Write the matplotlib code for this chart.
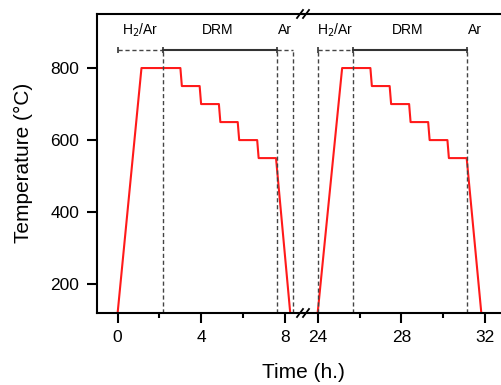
import matplotlib
matplotlib.use('Agg')
import matplotlib.pyplot as plt
from matplotlib.lines import Line2D

plt.rcParams['font.family'] = ['Liberation Sans', 'DejaVu Sans']

# temperature programme, first run (0-8 h) and second run (24-32 h)
t_run1 = [0, 1.14, 3.0, 3.07, 3.92, 3.99, 4.84, 4.91, 5.74, 5.81, 6.67, 6.74, 7.57, 8.25]
t_run2 = [24, 25.17, 26.52, 26.59, 27.44, 27.51, 28.37, 28.44, 29.28, 29.35, 30.2, 30.27, 31.12, 31.82]
temp = [120, 800, 800, 750, 750, 700, 700, 650, 650, 600, 600, 550, 550, 120]

# gas phases: (start, end) of each stage
h2_run1, drm_run1, ar_run1 = (0, 2.17), (2.17, 7.62), (7.62, 8.38)
h2_run2, drm_run2, ar_run2 = (24, 25.7), (25.7, 31.14), (31.14, None)
phase_labels = ['H$_2$/Ar', 'DRM', 'Ar']

W, H = 501, 385
fig = plt.figure(figsize=(W / 100, H / 100), dpi=100)
x0, xb, y0, y1 = 96.7, 303, 313, 14
ax1 = fig.add_axes([x0 / W, (H - y0) / H, (xb - x0) / W, (y0 - y1) / H])
ax2 = fig.add_axes([xb / W, (H - y0) / H, (W - xb) / W, (y0 - y1) / H])

ax1.set_xlim(-1.0, 8.86)
ax2.set_xlim(23.3, 32.76)
for ax in (ax1, ax2):
    ax.set_ylim(120, 950)
    for s in ax.spines.values():
        s.set_linewidth(1.5)
    ax.tick_params(which='major', direction='out', length=7.5, width=1.5,
                   pad=5, labelsize=12.5)
    ax.tick_params(which='minor', direction='out', length=3.5, width=1.5)
ax1.spines['right'].set_visible(False)
ax2.spines['left'].set_visible(False)
ax2.spines['right'].set_visible(False)
ax2.tick_params(axis='y', left=False, labelleft=False)

ax1.set_xticks([0, 4, 8])
ax1.set_xticks([2, 6], minor=True)
ax2.set_xticks([24, 28, 32])
ax2.set_xticks([26, 30], minor=True)
ax1.set_yticks([200, 400, 600, 800])

ax1.plot(t_run1, temp, color='#ff1a1a', lw=1.5)
ax2.plot(t_run2, temp, color='#ff1a1a', lw=1.5)

br_y, lab_y = 851, 905
dash = dict(color='#444444', lw=1, dashes=(3, 2))


def phases(ax, h2, drm, ar):
    ax.plot(h2, [br_y, br_y], **dash)
    ax.plot(drm, [br_y, br_y], color='#333333', lw=1.5)
    ax.plot([h2[0], drm[0], drm[1]], [br_y] * 3, ls='none', marker='|',
            ms=5, mew=1.2, color='#333333')
    xs = [drm[0], drm[1]]
    if h2[0] >= 20:
        xs.append(h2[0])
    if ar[1] is not None:
        ax.plot(ar, [br_y, br_y], **dash)
        xs.append(ar[1])
    for x in xs:
        ax.plot([x, x], [120, br_y], **dash)
    ar_mid = (ar[0] + ar[1]) / 2 if ar[1] is not None else ar[0] + 0.36
    for x, lab in zip([(h2[0] + h2[1]) / 2, (drm[0] + drm[1]) / 2 - 0.1, ar_mid], phase_labels):
        ax.text(x, lab_y, lab, ha='center', va='center', fontsize=10)


phases(ax1, h2_run1, drm_run1, ar_run1)
phases(ax2, h2_run2, drm_run2, ar_run2)

# axis break marks
for yp in (y0, y1):
    for dx in (-3, 3):
        xc = xb + dx
        fig.add_artist(Line2D([(xc - 3) / W, (xc + 3) / W],
                              [(H - yp - 4) / H, (H - yp + 4) / H],
                              color='black', lw=1.3))

fig.text(303 / W, (H - 373) / H, 'Time (h.)', ha='center', va='center', fontsize=15)
fig.text(23 / W, (H - 163) / H, 'Temperature (°C)', ha='center', va='center',
         rotation=90, fontsize=15)

fig.savefig('out.png', dpi=100)
